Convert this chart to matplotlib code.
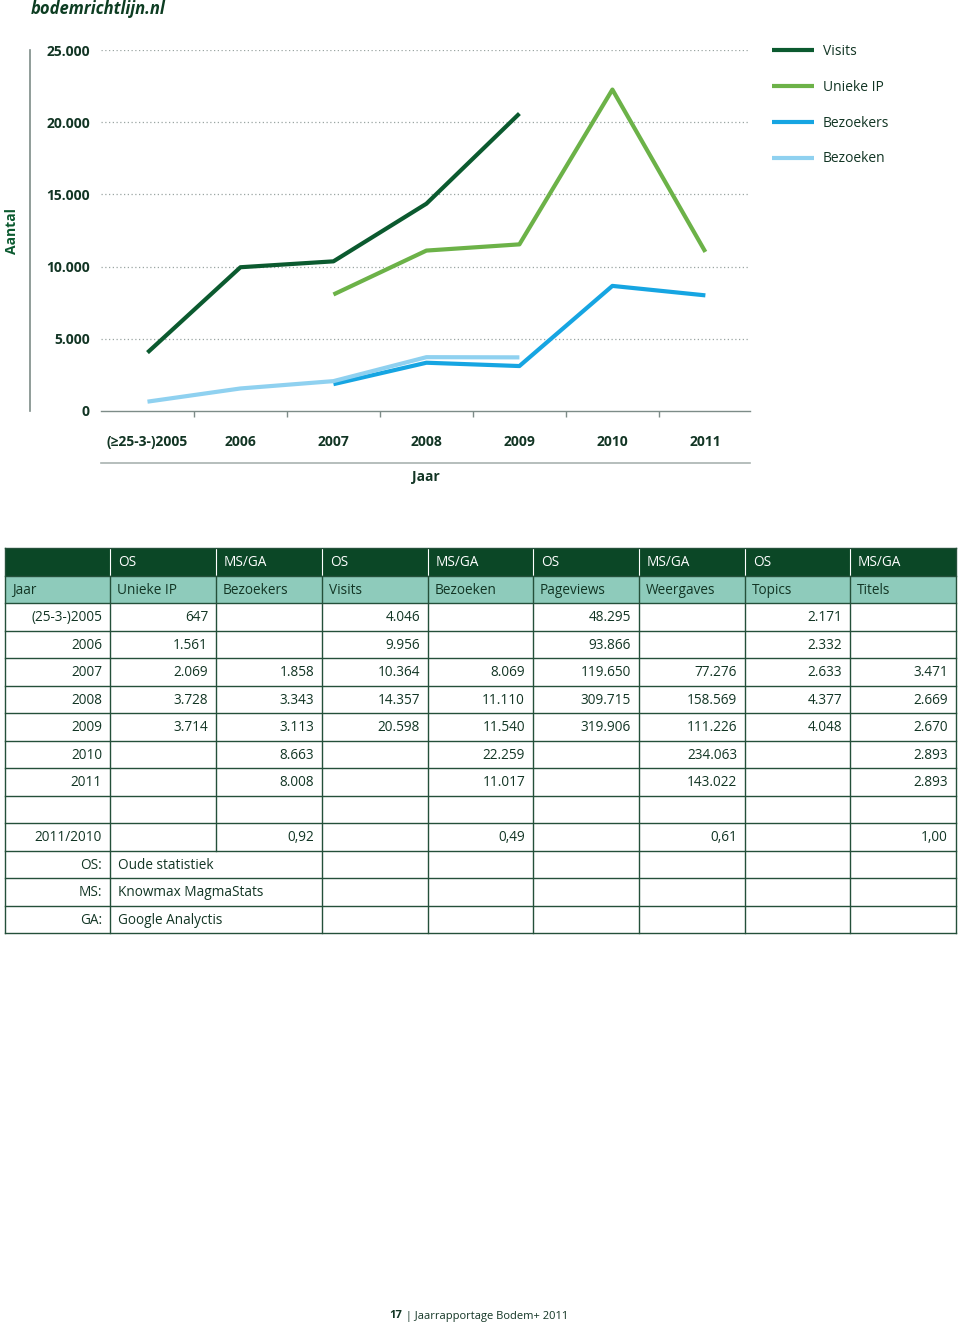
import matplotlib
matplotlib.use("Agg")
import matplotlib.pyplot as plt
from matplotlib.patches import Rectangle
import numpy as np

plt.rcParams['font.family'] = ['Open Sans', 'DejaVu Sans']

# chart data
years = ["(≥25-3-)2005", "2006", "2007", "2008", "2009", "2010", "2011"]
visits = [4046, 9956, 10364, 14357, 20598, np.nan, np.nan]
unieke_ip = [np.nan, np.nan, 8069, 11110, 11540, 22259, 11017]
bezoekers = [np.nan, np.nan, 1858, 3343, 3113, 8663, 8008]
bezoeken = [647, 1561, 2069, 3728, 3714, np.nan, np.nan]
yticks = [0, 5000, 10000, 15000, 20000, 25000]

# table data
head_src = ["", "OS", "MS/GA", "OS", "MS/GA", "OS", "MS/GA", "OS", "MS/GA"]
head_cols = ["Jaar", "Unieke IP", "Bezoekers", "Visits", "Bezoeken", "Pageviews", "Weergaves", "Topics", "Titels"]
table_rows = [
    ["(25-3-)2005", "647", "", "4.046", "", "48.295", "", "2.171", ""],
    ["2006", "1.561", "", "9.956", "", "93.866", "", "2.332", ""],
    ["2007", "2.069", "1.858", "10.364", "8.069", "119.650", "77.276", "2.633", "3.471"],
    ["2008", "3.728", "3.343", "14.357", "11.110", "309.715", "158.569", "4.377", "2.669"],
    ["2009", "3.714", "3.113", "20.598", "11.540", "319.906", "111.226", "4.048", "2.670"],
    ["2010", "", "8.663", "", "22.259", "", "234.063", "", "2.893"],
    ["2011", "", "8.008", "", "11.017", "", "143.022", "", "2.893"],
    ["", "", "", "", "", "", "", "", ""],
    ["2011/2010", "", "0,92", "", "0,49", "", "0,61", "", "1,00"],
]
notes = [("OS:", "Oude statistiek"), ("MS:", "Knowmax MagmaStats"), ("GA:", "Google Analyctis")]

DARK = "#0b4726"
TXT = "#123524"
TEAL = "#8ecbbb"
GRID = "#24503a"
GRAY = "#7d8c88"

W, H = 960, 1326


def fx(px):
    return px / W


def fy(py):
    return 1 - py / H


fig = plt.figure(figsize=(9.6, 13.26), dpi=100)

# line chart
ax = fig.add_axes([fx(101), fy(411), 649 / W, 361 / H])
x = np.arange(len(years))
ax.plot(x, visits, color="#0b5a2f", lw=3, label="Visits", solid_capstyle="butt")
ax.plot(x, unieke_ip, color="#6cb248", lw=3, label="Unieke IP", solid_capstyle="butt")
ax.plot(x, bezoekers, color="#16a5e2", lw=3, label="Bezoekers", solid_capstyle="butt")
ax.plot(x, bezoeken, color="#8fd1f0", lw=3, label="Bezoeken", solid_capstyle="butt")
ax.set_xlim(-0.5, 6.48)
ax.set_ylim(0, 25000)

for s in ["top", "right", "left"]:
    ax.spines[s].set_visible(False)
ax.spines["bottom"].set_color(GRAY)
ax.spines["bottom"].set_linewidth(1.0)

ax.set_yticks(yticks)
ax.set_yticklabels([f"{v:,}".replace(",", ".") for v in yticks], fontweight="bold", color=TXT, fontsize=10)
ax.tick_params(axis="y", length=0, pad=8)
for v in yticks[1:]:
    ax.axhline(v, color="#9aa5a2", lw=0.9, linestyle=(0, (1, 2)), zorder=0)

ax.set_xticks(np.arange(0.5, 6, 1))
ax.set_xticklabels([])
ax.tick_params(axis="x", which="major", length=4, width=1, color=GRAY, direction="out")
ax.set_xticks(x, minor=True)
ax.set_xticklabels(years, minor=True, fontweight="bold", color=TXT, fontsize=10)
ax.tick_params(axis="x", which="minor", length=0, pad=17)

leg = ax.legend(loc="upper left", bbox_to_anchor=(fx(772), fy(44)), bbox_transform=fig.transFigure,
                frameon=False, handlelength=3.0, handletextpad=0.65, labelspacing=1.5,
                borderpad=0, borderaxespad=0, fontsize=10)
for t in leg.get_texts():
    t.set_color(TXT)

# page-level items and table in pixel coords
tax = fig.add_axes([0, 0, 1, 1])
tax.set_xlim(0, W)
tax.set_ylim(H, 0)
tax.axis("off")

tax.text(31, 9, "bodemrichtlijn.nl", fontsize=12, fontweight="bold", style="italic",
         color="#0d3d22", va="center", ha="left")
tax.plot([30, 30], [50, 411], color=GRAY, lw=1.2)
tax.plot([101, 750], [463, 463], color="#a9b3b0", lw=1.2)
tax.text(12, 231, "Aantal", rotation=90, fontsize=10, fontweight="bold", color="#0b5a2f",
         ha="center", va="center")
tax.text(426, 477, "Jaar", fontsize=10, fontweight="bold", color=TXT, ha="center", va="center")

cols = [5, 110, 216, 322, 428, 533, 639, 745, 850, 956]
top = 548
h1, h2 = 576, 603
rh = 27.5
n_rows = len(table_rows) + len(notes)
bottom = h2 + rh * n_rows

tax.add_patch(Rectangle((cols[0], top), cols[-1] - cols[0], h1 - top, facecolor=DARK, edgecolor="none"))
tax.add_patch(Rectangle((cols[0], h1), cols[-1] - cols[0], h2 - h1, facecolor=TEAL, edgecolor="none"))
for c in cols[1:-1]:
    tax.plot([c, c], [top, h1], color="white", lw=0.8)

# horizontal lines
for i in range(n_rows + 1):
    y = h2 + rh * i
    tax.plot([cols[0], cols[-1]], [y, y], color=GRID, lw=1.0)
tax.plot([cols[0], cols[-1]], [h1, h1], color=GRID, lw=1.0)
# vertical lines
notes_top = h2 + rh * len(table_rows)
for c in cols:
    if c == 216:
        tax.plot([c, c], [h1, notes_top], color=GRID, lw=1.0)
    elif c in (cols[0], cols[-1]):
        tax.plot([c, c], [top, bottom], color=GRID, lw=1.0)
    else:
        tax.plot([c, c], [h1, bottom], color=GRID, lw=1.0)
tax.plot([cols[0], cols[-1]], [top, top], color=GRID, lw=1.0)

fs = 9.8
for j, s in enumerate(head_src):
    tax.text(cols[j] + 8, (top + h1) / 2 + 1, s, color="white", fontsize=fs, ha="left", va="center")
for j, s in enumerate(head_cols):
    tax.text(cols[j] + 7, (h1 + h2) / 2 + 1, s, color=TXT, fontsize=fs, ha="left", va="center")
for i, row in enumerate(table_rows):
    yc = h2 + rh * i + rh / 2 + 1
    for j, s in enumerate(row):
        tax.text(cols[j + 1] - 8, yc, s, color=TXT, fontsize=fs, ha="right", va="center")
for i, (k, v) in enumerate(notes):
    yc = notes_top + rh * i + rh / 2 + 1
    tax.text(cols[1] - 8, yc, k, color=TXT, fontsize=fs, ha="right", va="center")
    tax.text(cols[1] + 8, yc, v, color=TXT, fontsize=fs, ha="left", va="center")

tax.text(402, 1316, "17", fontsize=8, fontweight="bold", color=TXT, ha="right", va="center")
tax.text(403, 1316, " | Jaarrapportage Bodem+ 2011", fontsize=8, color=TXT, ha="left", va="center")

fig.savefig("out.png", dpi=100)
